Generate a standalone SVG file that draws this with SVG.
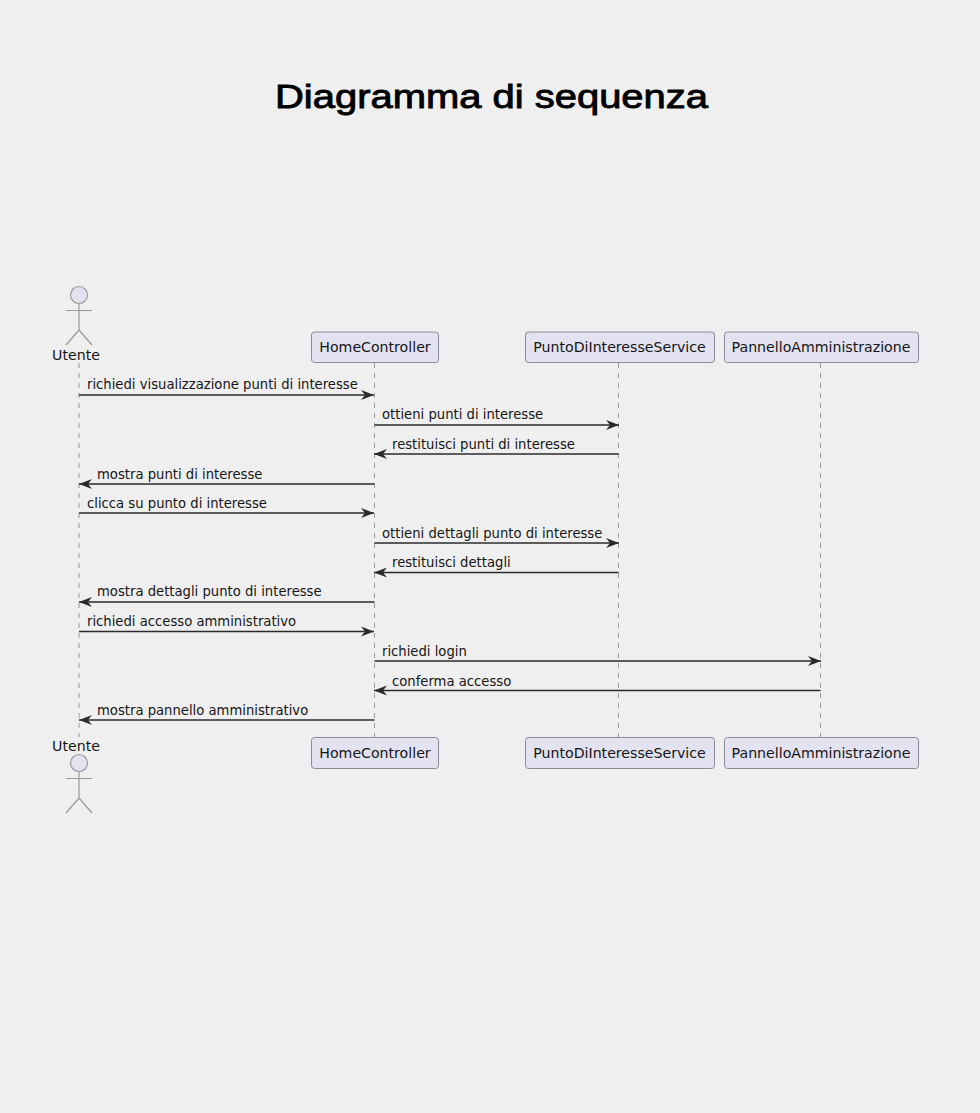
<svg xmlns="http://www.w3.org/2000/svg" width="980" height="1113" viewBox="0 0 980 1113">
<style>
text{font-family:"DejaVu Sans",sans-serif;fill:#151515}
.t{font-family:"Liberation Sans",Arial,sans-serif;font-size:34px;font-weight:400;fill:#000;stroke:#000;stroke-width:.9px}
.n{font-size:14.15px}
.m{font-size:13.2px}
.box{fill:#e2e2f0;stroke:#8a8a9a;stroke-width:1}
.life{stroke:#9a9a9a;stroke-width:1;stroke-dasharray:5 5;fill:none}
.msg{stroke:#2b2b2b;stroke-width:1.3;fill:none}
.act{fill:#e2e2f0;stroke:#999;stroke-width:1.2}
.lim{fill:none;stroke:#999;stroke-width:1.2}
</style>
<defs>
<marker id="ah" markerUnits="userSpaceOnUse" markerWidth="14" markerHeight="12" refX="13" refY="5" orient="auto-start-reverse" viewBox="0 0 14 10"><path d="M0 0L13 5L0 10L4 5Z" fill="#2b2b2b"/></marker>
</defs>
<rect width="980" height="1113" fill="#efefef"/>
<text class="t" x="275" y="108" textLength="433" lengthAdjust="spacingAndGlyphs">Diagramma di sequenza</text>
<g id="lifelines">
<path class="life" d="M79 363V737"/><path class="life" d="M374.500 363V737"/><path class="life" d="M618.500 363V737"/><path class="life" d="M820.500 363V737"/>
</g>
<g id="utente-top"><circle class="act" cx="79" cy="295" r="8.500"/><path class="lim" d="M79 303.500V330M66 310.500H92M66 345L79 330L92 345"/><text class="n" x="76" y="360" text-anchor="middle">Utente</text></g>
<g id="home-top"><rect class="box" x="311.500" y="332" width="127" height="30.500" rx="3"/><text class="n" x="375" y="352" text-anchor="middle">HomeController</text></g>
<g id="service-top"><rect class="box" x="525.500" y="332" width="189" height="30.500" rx="3"/><text class="n" x="619.500" y="352" text-anchor="middle">PuntoDiInteresseService</text></g>
<g id="pannello-top"><rect class="box" x="724.500" y="332" width="194" height="30.500" rx="3"/><text class="n" x="821" y="352" text-anchor="middle">PannelloAmministrazione</text></g>
<g id="connectors">
<path class="msg" marker-end="url(#ah)" d="M79 395H374"/>
<path class="msg" marker-end="url(#ah)" d="M374.500 425H619"/>
<path class="msg" marker-end="url(#ah)" d="M618.500 454H374"/>
<path class="msg" marker-end="url(#ah)" d="M374.500 484H79"/>
<path class="msg" marker-end="url(#ah)" d="M79 513H374"/>
<path class="msg" marker-end="url(#ah)" d="M374.500 543H619"/>
<path class="msg" marker-end="url(#ah)" d="M618.500 572.500H374"/>
<path class="msg" marker-end="url(#ah)" d="M374.500 602H79"/>
<path class="msg" marker-end="url(#ah)" d="M79 631.500H374"/>
<path class="msg" marker-end="url(#ah)" d="M374.500 661H821"/>
<path class="msg" marker-end="url(#ah)" d="M820.500 690.500H374"/>
<path class="msg" marker-end="url(#ah)" d="M374.500 720H79"/>
</g>
<g id="labels">
<text class="m" x="87" y="389">richiedi visualizzazione punti di interesse</text>
<text class="m" x="382" y="419">ottieni punti di interesse</text>
<text class="m" x="392" y="449">restituisci punti di interesse</text>
<text class="m" x="97" y="479">mostra punti di interesse</text>
<text class="m" x="87" y="508">clicca su punto di interesse</text>
<text class="m" x="382" y="538">ottieni dettagli punto di interesse</text>
<text class="m" x="392" y="567">restituisci dettagli</text>
<text class="m" x="97" y="596">mostra dettagli punto di interesse</text>
<text class="m" x="87" y="626">richiedi accesso amministrativo</text>
<text class="m" x="382" y="656">richiedi login</text>
<text class="m" x="392" y="686">conferma accesso</text>
<text class="m" x="97" y="715">mostra pannello amministrativo</text>
</g>
<g id="utente-bottom"><text class="n" x="76" y="751" text-anchor="middle">Utente</text><circle class="act" cx="79" cy="763" r="8.500"/><path class="lim" d="M79 771.500V798M66 778.500H92M66 813L79 798L92 813"/></g>
<g id="home-bottom"><rect class="box" x="311.500" y="737.500" width="127" height="31" rx="3"/><text class="n" x="375" y="758" text-anchor="middle">HomeController</text></g>
<g id="service-bottom"><rect class="box" x="525.500" y="737.500" width="189" height="31" rx="3"/><text class="n" x="619.500" y="758" text-anchor="middle">PuntoDiInteresseService</text></g>
<g id="pannello-bottom"><rect class="box" x="724.500" y="737.500" width="194" height="31" rx="3"/><text class="n" x="821" y="758" text-anchor="middle">PannelloAmministrazione</text></g>
</svg>
